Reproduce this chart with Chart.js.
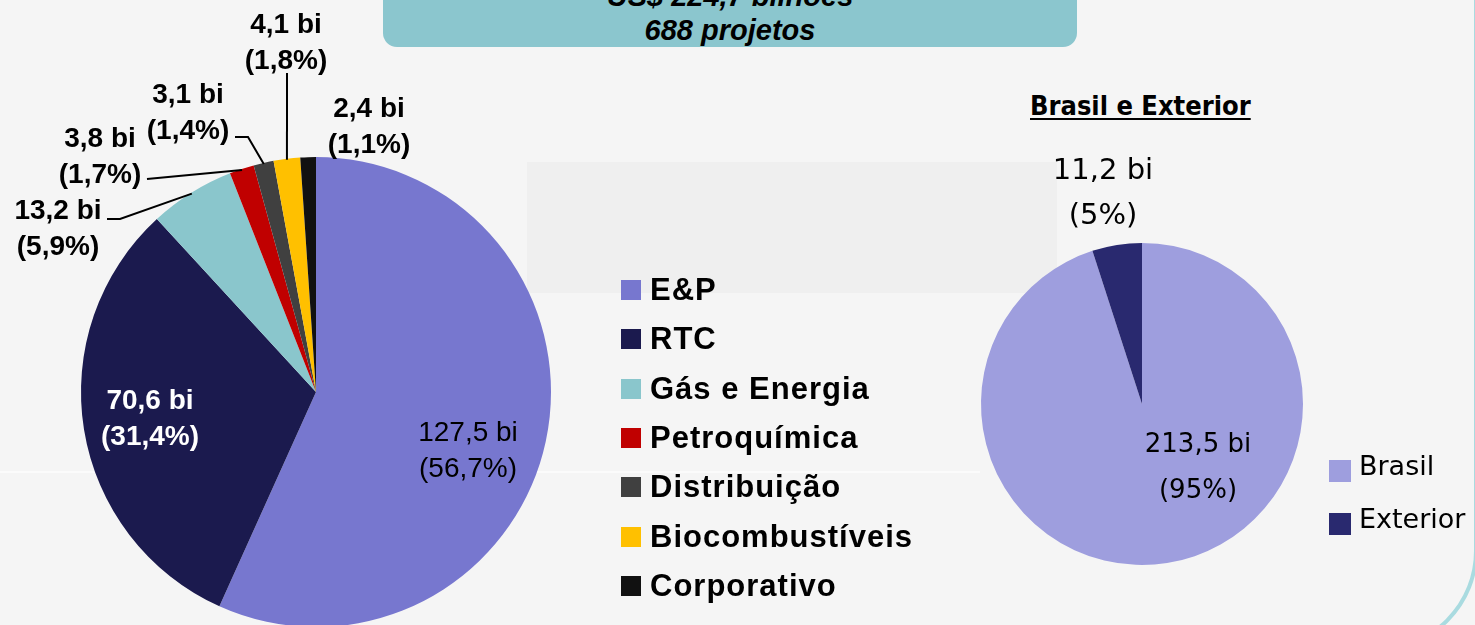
<!DOCTYPE html>
<html>
<head>
<meta charset="utf-8">
<script src="https://cdn.jsdelivr.net/npm/chart.js@4.4.0/dist/chart.umd.min.js"></script>
<style>
  body { margin:0; width:1475px; height:625px; overflow:hidden; position:relative; background:#f5f5f5; font-family:'Liberation Sans', Arial, sans-serif; }
  .bgband { position:absolute; left:527px; top:162px; width:530px; height:131px; background:#efefef; }
  .bgline { position:absolute; left:0; top:471px; width:980px; height:2px; background:#fbfbfb; }
  .frame { position:absolute; right:-3px; bottom:-26px; width:1600px; height:800px; border:4px solid #a9dbe0; border-radius:0 0 100px 0; }
  .banner { position:absolute; left:383px; top:-20px; width:694px; height:67px; background:#8bc6ce; border-radius:0 0 14px 14px; text-align:center; color:#000; font:italic bold 29px 'Liberation Sans', Arial, sans-serif; line-height:34px; }
  canvas { position:absolute; left:0; top:0; }
  .legend-row { position:absolute; display:flex; align-items:center; white-space:nowrap; }
  .legend-row span.box { display:inline-block; }
  .subtitle { position:absolute; left:1030px; top:90px; font:bold 27px 'DejaVu Sans', sans-serif; font-stretch:condensed; text-decoration:underline; text-underline-offset:3px; color:#000; }
</style>
</head>
<body>
<div class="bgband"></div>
<div class="bgline"></div>
<div class="frame"></div>
<div class="banner"><div style="margin-top:-1px">US$ 224,7 bilhões</div><div>688 projetos</div></div>
<div class="subtitle">Brasil e Exterior</div>
<canvas id="sectorPie" width="1475" height="640"></canvas>
<canvas id="regionPie" width="1475" height="625"></canvas>
<div id="legends"></div>
<script>
// Investimentos por segmento (US$ bilhões) e participação (%)
const sectors = ['E&P', 'RTC', 'Gás e Energia', 'Petroquímica', 'Distribuição', 'Biocombustíveis', 'Corporativo'];
const sectorValues = [127.5, 70.6, 13.2, 3.8, 3.1, 4.1, 2.4];
const sectorShares = [56.7, 31.4, 5.9, 1.7, 1.4, 1.8, 1.1];
const sectorColors = ['#7777cf', '#1b1a4e', '#8ac6cc', '#c00000', '#404040', '#ffc000', '#111111'];

// Brasil x Exterior
const regions = ['Brasil', 'Exterior'];
const regionValues = [213.5, 11.2];
const regionShares = [95, 5];
const regionColors = ['#9e9ede', '#29296f'];

const fmt = v => String(v).replace('.', ',');
const valueText = v => v.toFixed(1).replace('.', ',') + ' bi';

// where each slice's label sits, and the bends of its leader line (page px)
const sectorLabelSpots = [
  { x: 468, y: 431, color: '#000', weight: 'normal' },
  { x: 150, y: 399, color: '#fff' },
  { x: 58, y: 209, line: [[120, 219], [107, 219]] },
  { x: 100, y: 137, line: [[147, 179]] },
  { x: 188, y: 93, line: [[248, 137], [235, 137]] },
  { x: 286, y: 23, line: [[287, 73]] },
  { x: 369, y: 107 }
];
const regionLabelSpots = [
  { x: 1198, y: 443, size: 26 },
  { x: 1103, y: 168, size: 29, gap: 45 }
];

// draws "x bi / (y%)" next to each slice, with optional leader line
const sliceLabels = {
  id: 'sliceLabels',
  afterDatasetsDraw(chart, args, opts) {
    const ctx = chart.ctx;
    const arcs = chart.getDatasetMeta(0).data;
    ctx.save();
    arcs.forEach((arc, i) => {
      const spot = opts.spots[i];
      const p = arc.getProps(['x', 'y', 'startAngle', 'endAngle', 'outerRadius'], true);
      if (spot.line) {
        const mid = (p.startAngle + p.endAngle) / 2;
        const r = p.outerRadius - 1;
        ctx.beginPath();
        ctx.moveTo(p.x + Math.cos(mid) * r, p.y + Math.sin(mid) * r);
        spot.line.forEach(pt => ctx.lineTo(pt[0], pt[1]));
        ctx.strokeStyle = '#000';
        ctx.lineWidth = 2;
        ctx.stroke();
      }
      const size = spot.size || opts.size;
      ctx.font = (spot.weight || opts.weight) + ' ' + size + 'px ' + opts.family;
      ctx.fillStyle = spot.color || '#000';
      ctx.textAlign = 'center';
      ctx.textBaseline = 'alphabetic';
      const gap = spot.gap || opts.gap;
      const off = size * opts.capMid;
      ctx.fillText(valueText(opts.values[i]), spot.x, spot.y + off);
      ctx.fillText('(' + fmt(opts.shares[i]) + '%)', spot.x, spot.y + gap + off);
    });
    ctx.restore();
  }
};

new Chart(document.getElementById('sectorPie'), {
  type: 'pie',
  data: {
    labels: sectors,
    datasets: [{ data: sectorValues, backgroundColor: sectorColors, borderWidth: 0 }]
  },
  options: {
    responsive: false,
    animation: false,
    events: [],
    layout: { padding: { left: 81, right: 924, top: 157, bottom: 13 } },
    plugins: {
      legend: { display: false },
      tooltip: { enabled: false },
      sliceLabels: {
        spots: sectorLabelSpots, values: sectorValues, shares: sectorShares,
        size: 28, weight: 'bold', gap: 36, capMid: 0.36,
        family: "'Liberation Sans', Arial, sans-serif"
      }
    }
  },
  plugins: [sliceLabels]
});

new Chart(document.getElementById('regionPie'), {
  type: 'pie',
  data: {
    labels: regions,
    datasets: [{ data: regionValues, backgroundColor: regionColors, borderWidth: 0 }]
  },
  options: {
    responsive: false,
    animation: false,
    events: [],
    layout: { padding: { left: 981, right: 172, top: 243, bottom: 60 } },
    plugins: {
      legend: { display: false },
      tooltip: { enabled: false },
      sliceLabels: {
        spots: regionLabelSpots, values: regionValues, shares: regionShares,
        size: 26, weight: 'normal', gap: 46, capMid: 0.365,
        family: "'DejaVu Sans', sans-serif"
      }
    }
  },
  plugins: [sliceLabels]
});

// html legends
function addLegend(labels, colors, o) {
  const holder = document.getElementById('legends');
  labels.forEach((lab, i) => {
    const row = document.createElement('div');
    row.className = 'legend-row';
    row.style.left = o.left + 'px';
    row.style.top = (o.top + i * o.step - o.rowH / 2) + 'px';
    row.style.height = o.rowH + 'px';
    row.style.font = o.font;
    row.style.letterSpacing = o.spacing || 'normal';
    row.innerHTML = '<span class="box" style="width:' + o.box + 'px;height:' + o.box + 'px;background:' + colors[i] +
      ';margin-right:' + o.gap + 'px;margin-top:' + (o.boxShift || 0) + 'px"></span><span>' + lab + '</span>';
    holder.appendChild(row);
  });
}
addLegend(sectors, sectorColors, { left: 621, top: 290, step: 49.3, rowH: 40, box: 20, gap: 9, font: "bold 31px 'Liberation Sans', Arial, sans-serif", spacing: '1px' });
addLegend(regions, regionColors, { left: 1329, top: 465, step: 53, rowH: 40, box: 22, gap: 8, boxShift: 12, font: "27px 'DejaVu Sans', sans-serif" });
</script>
</body>
</html>
